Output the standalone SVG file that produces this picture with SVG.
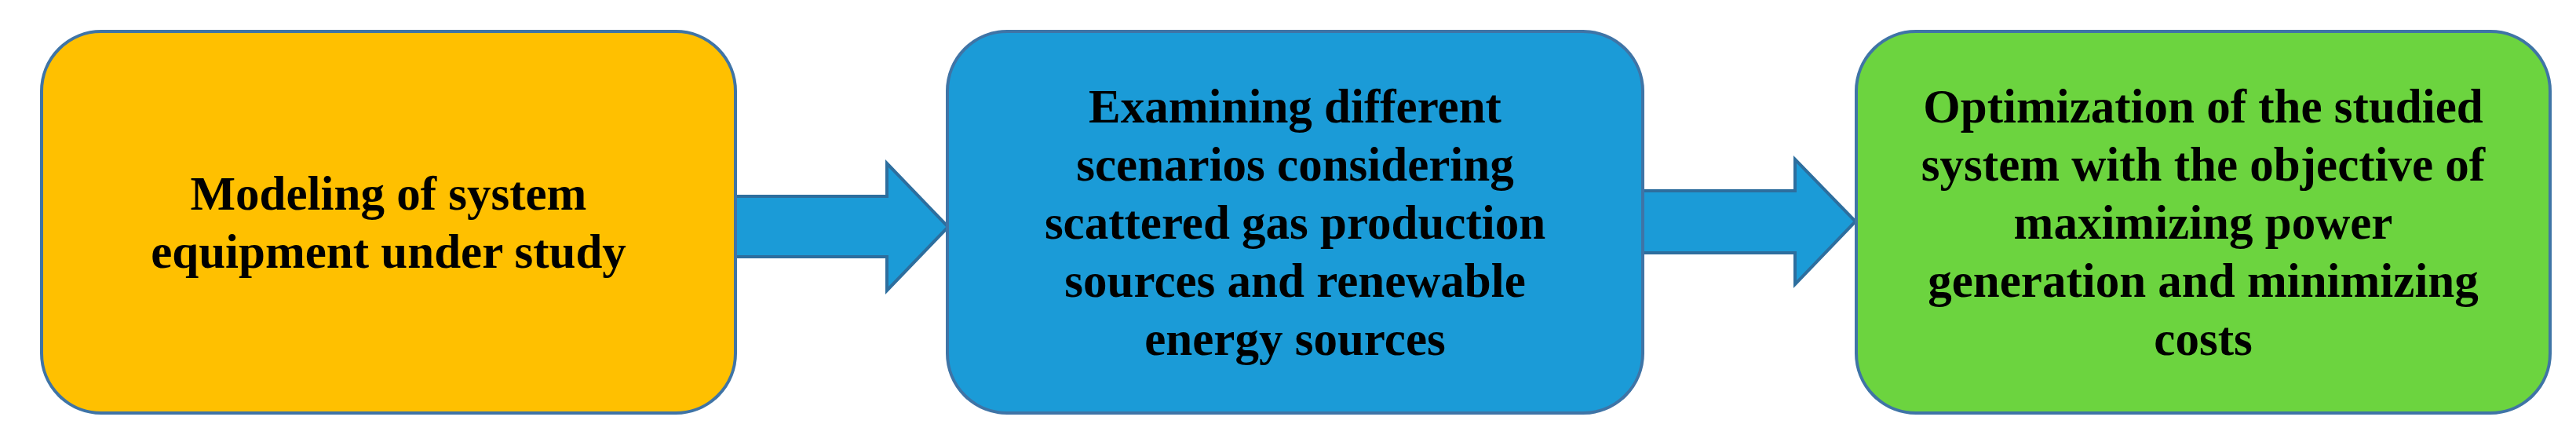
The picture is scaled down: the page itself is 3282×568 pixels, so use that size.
<svg xmlns="http://www.w3.org/2000/svg" width="3282" height="568" viewBox="0 0 3282 568">
<style>
.box{stroke:#3F74A6;stroke-width:4}
.arrow{fill:#1B9BD7;stroke:#2D6E9E;stroke-width:4;stroke-linejoin:miter}
.t{font-family:"Liberation Serif","Times New Roman",serif;font-weight:bold;font-size:61px;fill:#000;text-anchor:middle}
</style>
<rect width="3282" height="568" fill="#FFFFFF"/>
<g id="connectors">
<polygon class="arrow" points="937,250 1130,250 1130,208 1208,289 1130,370 1130,327 937,327"/>
<polygon class="arrow" points="2093,243 2287,243 2287,203 2364,282 2287,362 2287,322 2093,322"/>
</g>
<g id="node1">
<rect class="box" x="53" y="40" width="884" height="486" rx="76" ry="76" fill="#FFC000"/>
<text class="t" x="495" y="267">Modeling of system</text>
<text class="t" x="495" y="341">equipment under study</text>
</g>
<g id="node2">
<rect class="box" x="1207" y="40" width="886" height="486" rx="76" ry="76" fill="#1B9BD7"/>
<text class="t" x="1650" y="156">Examining different</text>
<text class="t" x="1650" y="230">scenarios considering</text>
<text class="t" x="1650" y="304">scattered gas production</text>
<text class="t" x="1650" y="378">sources and renewable</text>
<text class="t" x="1650" y="452">energy sources</text>
</g>
<g id="node3">
<rect class="box" x="2365" y="40" width="884" height="486" rx="76" ry="76" fill="#6CD43F"/>
<text class="t" x="2807" y="156">Optimization of the studied</text>
<text class="t" x="2807" y="230">system with the objective of</text>
<text class="t" x="2807" y="304">maximizing power</text>
<text class="t" x="2807" y="378">generation and minimizing</text>
<text class="t" x="2807" y="452">costs</text>
</g>
</svg>
